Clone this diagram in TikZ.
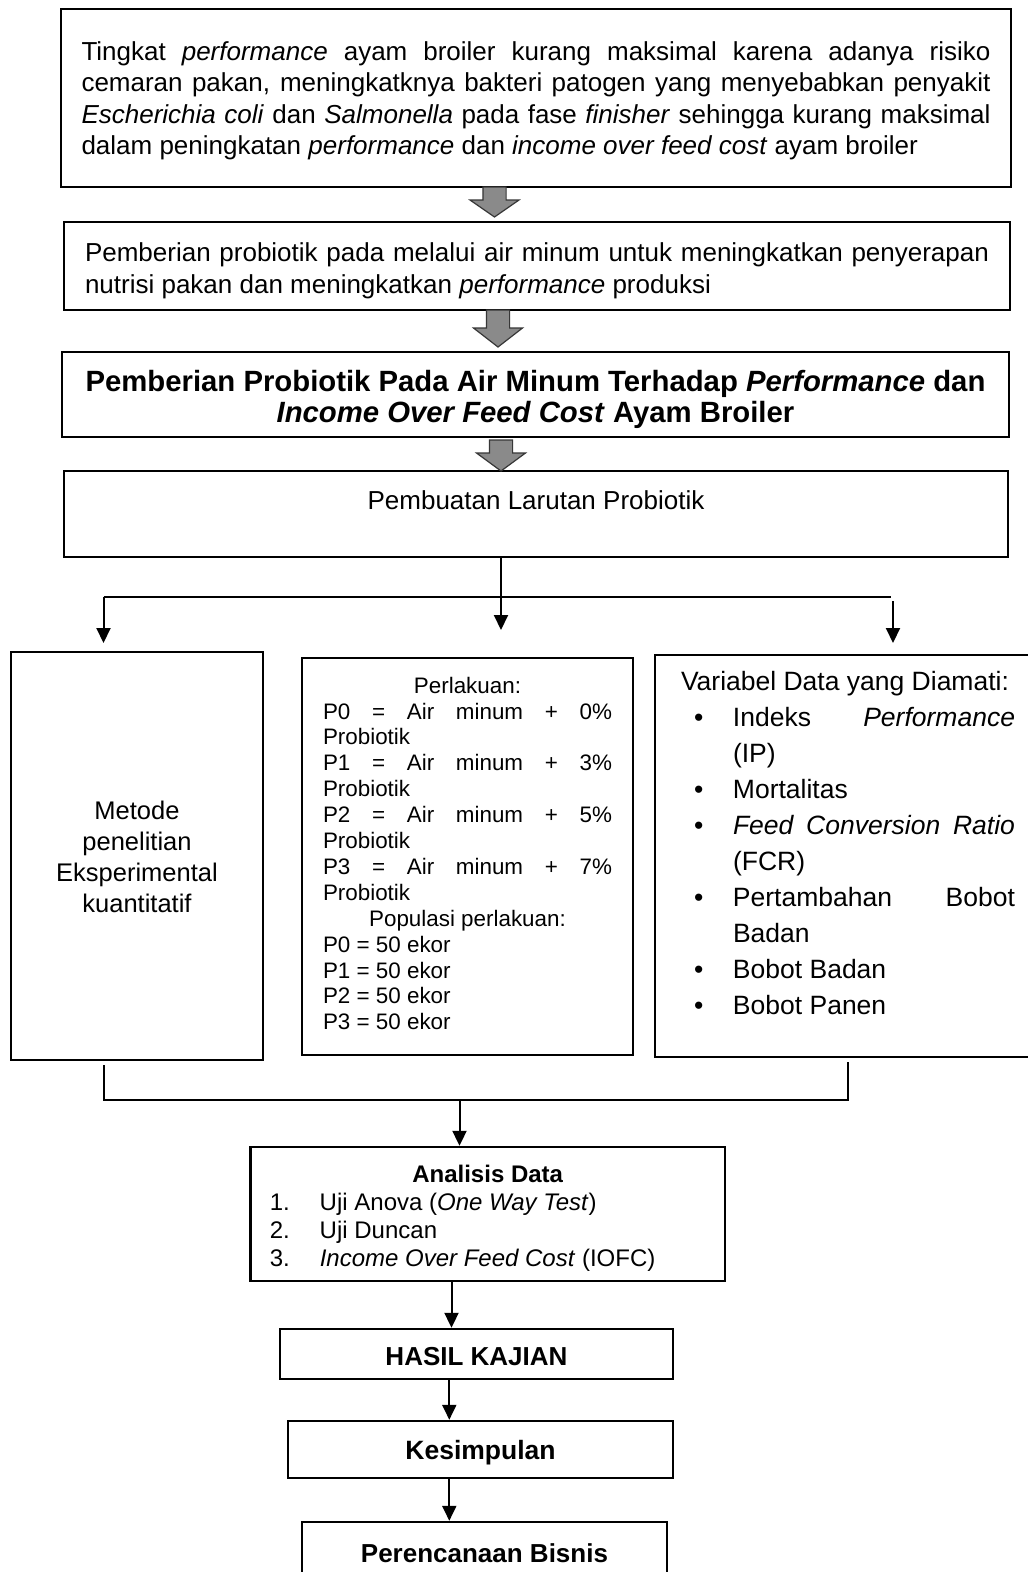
\documentclass[tikz,border=0pt]{standalone}
\usepackage{fontspec}
\setmainfont{Liberation Sans}
\usetikzlibrary{arrows.meta,calc}
% line helpers (justified, left, centred, bullet lines)
\newcommand\Jl[1]{\hbox to\hsize{\spaceskip=\fontdimen2\font plus 1fil\relax #1}}
\newcommand\Ll[1]{\hbox to\hsize{#1\hfil}}
\newcommand\Cl[1]{\hbox to\hsize{\hfil#1\hfil}}
\newcommand\BJl[1]{\hbox to\hsize{\hbox to52pt{\hskip13pt\relax\textbullet\hfil}\spaceskip=\fontdimen2\font plus 1fil\relax #1}}
\newcommand\BLl[1]{\hbox to\hsize{\hbox to52pt{\hskip13pt\relax\textbullet\hfil}#1\hfil}}
\newcommand\ILl[1]{\hbox to\hsize{\hskip52pt\relax #1\hfil}}
\newcommand\Nl[2]{\hbox to\hsize{\hbox to50pt{#1\hfil}#2\hfil}}
\newcommand\lowered[2]{\raisebox{-#1}[\height][\depth]{#2}}
\newcommand\blockarrow[4]{%
  \draw[blockar] (#1-11.6,#2) -- (#1+11.6,#2) -- (#1+11.6,#3) -- (#1+24.5,#3)
    -- (#1,#4) -- (#1-24.5,#3) -- (#1-11.6,#3) -- cycle;}
\begin{document}
\begin{tikzpicture}[x=1pt,y=-1pt,
  box/.style={draw, line width=2.4pt, inner sep=0pt},
  conn/.style={line width=2pt},
  arr/.style={line width=2pt, -{Triangle[width=14pt,length=15pt]}},
  blockar/.style={fill={rgb,255:red,138;green,138;blue,138}, draw={rgb,255:red,55;green,55;blue,55}, line width=1.2pt, line join=miter}]
\useasboundingbox (0,0) rectangle (1028,1572);
\fill[white] (0,0) rectangle (1028,1572);

% Box 1
\node[box, minimum width=950pt, minimum height=178pt, font=\fontsize{26}{31.5}\selectfont] (b1) at (536,98) {\vbox{\hsize=909pt
\vskip6pt
\Jl{Tingkat \textit{performance} ayam broiler kurang maksimal karena adanya risiko}
\Jl{cemaran pakan, meningkatknya bakteri patogen yang menyebabkan penyakit}
\Jl{\textit{Escherichia coli} dan \textit{Salmonella} pada fase \textit{finisher} sehingga kurang maksimal}
\Ll{dalam peningkatan \textit{performance} dan \textit{income over feed cost} ayam broiler}}};

% Box 2
\node[box, minimum width=946pt, minimum height=88pt, font=\fontsize{26}{32}\selectfont] (b2) at (537,266) {\vbox{\hsize=904pt
\vskip10pt
\Jl{Pemberian probiotik pada melalui air minum untuk meningkatkan penyerapan}
\Ll{nutrisi pakan dan meningkatkan \textit{performance} produksi}}};

% Box 3
\node[box, minimum width=947pt, minimum height=85pt, font=\bfseries\fontsize{29.3}{31}\selectfont] (b3) at (535.5,394.5) {\vbox{\hsize=910pt
\vskip10pt
\Cl{Pemberian Probiotik Pada Air Minum Terhadap \textit{Performance} dan}
\Cl{\textit{Income Over Feed Cost} Ayam Broiler}}};

% Box 4
\node[box, minimum width=944pt, minimum height=86pt, font=\fontsize{26}{30}\selectfont] (b4) at (536,514) {\vbox{\hbox{Pembuatan Larutan Probiotik}\vskip27pt}};

% block arrows
\blockarrow{494.5}{187}{200}{217}
\blockarrow{498}{310}{328}{347}
\blockarrow{501}{440}{453}{471}

% Left box
\node[box, minimum width=252pt, minimum height=408pt, font=\fontsize{25.5}{31}\selectfont] (bL) at (137,856) {\vbox{\hsize=230pt
\vskip2pt
\Cl{Metode}
\Cl{penelitian}
\Cl{Eksperimental}
\Cl{kuantitatif}}};

% Middle box
\node[box, minimum width=331pt, minimum height=397pt, font=\fontsize{22.4}{25.9}\selectfont] (bM) at (467.5,856.5) {\vbox{\hsize=289pt
\Cl{Perlakuan:}
\Jl{P0 = Air minum + 0\%}
\Ll{Probiotik}
\Jl{P1 = Air minum + 3\%}
\Ll{Probiotik}
\Jl{P2 = Air minum + 5\%}
\Ll{Probiotik}
\Jl{P3 = Air minum + 7\%}
\Ll{Probiotik}
\Cl{Populasi perlakuan:}
\Ll{P0 = 50 ekor}
\Ll{P1 = 50 ekor}
\Ll{P2 = 50 ekor}
\Ll{P3 = 50 ekor}
\vskip6pt}};

% Right box
\node[box, minimum width=386pt, minimum height=402pt, font=\fontsize{26.5}{36.1}\selectfont] (bR) at (848,856) {\vbox{\hsize=334pt
\Ll{Variabel Data yang Diamati:}
\BJl{Indeks \textit{Performance}}
\ILl{(IP)}
\BLl{Mortalitas}
\BJl{\textit{Feed Conversion Ratio}}
\ILl{(FCR)}
\BJl{Pertambahan Bobot}
\ILl{Badan}
\BLl{Bobot Badan}
\BLl{Bobot Panen}
\vskip26pt}};

% Analysis box
\node[box, minimum width=474.5pt, minimum height=134pt, font=\fontsize{24}{28}\selectfont] (bA) at (487.75,1214) {\vbox{\hsize=436pt
\vskip8pt
\Cl{\textbf{Analisis Data}}
\Nl{1.}{Uji Anova (\textit{One Way Test})}
\Nl{2.}{Uji Duncan}
\Nl{3.}{\textit{Income Over Feed Cost} (IOFC)}}};

\node[box, minimum width=393pt, minimum height=50pt, font=\bfseries\fontsize{26}{30}\selectfont] (bH) at (476.5,1354) {\lowered{3pt}{HASIL KAJIAN}};
\node[box, minimum width=385pt, minimum height=57pt, font=\bfseries\fontsize{26.5}{30}\selectfont] (bK) at (480.5,1449.5) {\lowered{3pt}{Kesimpulan}};
\node[box, minimum width=365pt, minimum height=60pt, font=\bfseries\fontsize{26}{30}\selectfont] (bP) at (484.5,1552) {\lowered{1pt}{Perencanaan Bisnis}};

% distribution connectors
\coordinate (tM) at (501,630);
\coordinate (hL) at (103.5,597);
\coordinate (hR) at (891,597);
\coordinate (tL) at (103.5,643);
\coordinate (sR) at (893,601);
\coordinate (tR) at (893,643);
\draw[arr] (b4.south -| tM) -- (tM);
\draw[conn] (hL) -- (hR);
\draw[arr] (hL) -- (tL);
\draw[arr] (sR) -- (tR);

% collecting bracket
\coordinate (kL) at (103.5,1065);
\coordinate (kM) at (459.5,1100);
\coordinate (kR) at (847.5,1062);
\draw[conn] (kL) |- (kM) -| (kR);
\draw[arr] (kM) -- (kM |- bA.north);

% lower chain
\coordinate (a2) at (451.5,0);
\coordinate (a3) at (449.3,0);
\draw[arr] (bA.south -| a2) -- (bH.north -| a2);
\draw[arr] (bH.south -| a3) -- (bK.north -| a3);
\draw[arr] (bK.south -| a3) -- (bP.north -| a3);
\end{tikzpicture}
\end{document}
